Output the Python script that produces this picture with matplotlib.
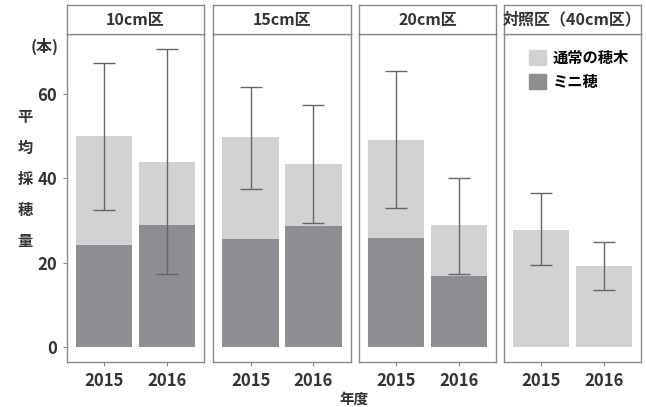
import numpy as np
import matplotlib
matplotlib.use("Agg")
import matplotlib.pyplot as plt
from matplotlib.patches import Patch

plt.rcParams['font.family'] = ['Noto Sans CJK JP', 'DejaVu Sans']

# data
panels = ['10cm区', '15cm区', '20cm区', '対照区（40cm区）']
years = ['2015', '2016']
total = [[50.0, 44.0], [49.9, 43.4], [49.2, 29.0], [27.8, 19.2]]
mini = [[24.2, 29.0], [25.6, 28.6], [25.8, 16.9], [0, 0]]
err_lo = [[32.4, 17.3], [37.5, 29.4], [33.0, 17.3], [19.4, 13.5]]
err_hi = [[67.5, 70.7], [61.8, 57.5], [65.4, 40.2], [36.5, 24.8]]

light = '#d1d2d4'
dark = '#8d8e91'
edge = '#8a8a8a'
txt = '#333333'
W, H = 646, 407
fig = plt.figure(figsize=(W / 100, H / 100), dpi=100)

xpix = [(67, 204), (213, 351), (359, 496), (504, 641)]
top, bot, strip_top = 34, 362, 5

for i, (x0, x1) in enumerate(xpix):
    ax = fig.add_axes([x0 / W, 1 - bot / H, (x1 - x0) / W, (bot - top) / H])
    pos = np.arange(2)
    normal = np.array(total[i]) - np.array(mini[i])
    ax.bar(pos, mini[i], width=0.9, color=dark)
    ax.bar(pos, normal, bottom=mini[i], width=0.9, color=light)
    tot = np.array(total[i])
    ax.errorbar(pos, tot, yerr=[tot - np.array(err_lo[i]), np.array(err_hi[i]) - tot],
                fmt='none', ecolor='#666666', elinewidth=1, capsize=8, capthick=1)
    ax.set_xlim(-0.6, 1.6)
    ax.set_ylim(-3.6, 74.3)
    ax.set_xticks(pos)
    ax.set_xticklabels(years, fontsize=12, fontweight='bold')
    ax.set_yticks([0, 20, 40, 60])
    if i == 0:
        ax.set_yticklabels(['0', '20', '40', '60'], fontsize=12, fontweight='bold')
    else:
        ax.tick_params(axis='y', left=False, labelleft=False)
    ax.tick_params(colors=edge, length=3, labelcolor=txt, pad=4)
    for s in ax.spines.values():
        s.set_color(edge)
        s.set_linewidth(1)

    # strip
    sax = fig.add_axes([x0 / W, 1 - top / H, (x1 - x0) / W, (top - strip_top) / H])
    sax.set_xticks([]); sax.set_yticks([])
    for s in sax.spines.values():
        s.set_color(edge)
        s.set_linewidth(1)
    sax.text(0.5, 0.5, panels[i], ha='center', va='center', fontsize=11.5,
             fontweight='bold', color=txt, transform=sax.transAxes)

    if i == 3:
        handles = [Patch(color=light, label='通常の穂木'), Patch(color=dark, label='ミニ穂')]
        ax.legend(handles=handles, loc='upper left', bbox_to_anchor=(0.08, 0.995),
                  frameon=False, handlelength=1.1, handleheight=1.1,
                  labelspacing=0.55, handletextpad=0.5,
                  prop={'weight': 'bold', 'size': 11})

fig.text(45 / W, 1 - 46 / H, '(本)', ha='center', va='center', fontsize=11.5,
         fontweight='bold', color=txt)
for k, ch in enumerate('平均採穂量'):
    fig.text(25 / W, 1 - (117 + k * 31) / H, ch, ha='center', va='center',
             fontsize=11, fontweight='bold', color=txt)
fig.text(354 / W, 1 - 399 / H, '年度', ha='center', va='center', fontsize=10.5,
         fontweight='bold', color=txt)

fig.savefig('out.png', dpi=100)
